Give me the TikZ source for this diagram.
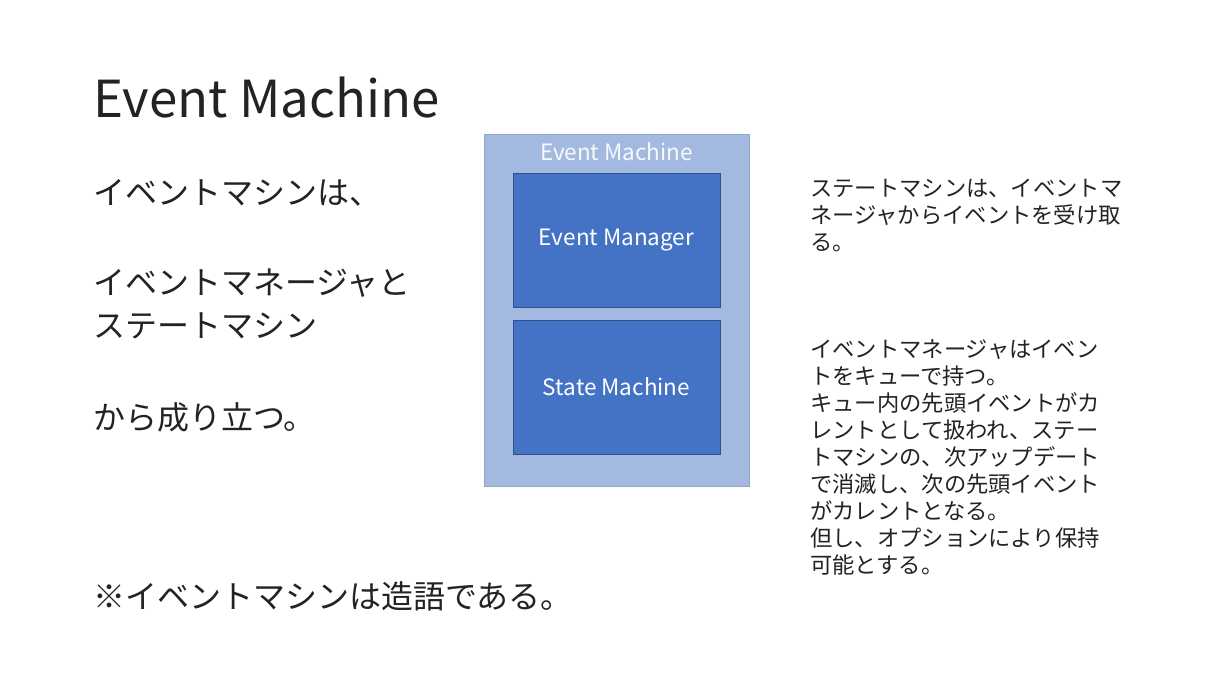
\documentclass[tikz,border=0pt]{standalone}
\usepackage{fontspec}
\setmainfont{Noto Sans CJK JP}
\usepackage{tikz}
\usetikzlibrary{positioning}
\definecolor{shell}{RGB}{163,185,224}
\definecolor{part}{RGB}{68,114,196}
\definecolor{partline}{RGB}{47,82,143}
\definecolor{ink}{RGB}{35,35,35}
\tikzset{
  shellbox/.style={fill=shell, draw=shell!90!black, line width=0.6pt},
  partbox/.style={fill=part, draw=partline, line width=0.8pt,
                  minimum width=207pt, minimum height=134pt, inner sep=0pt,
                  text=white, font=\fontsize{22.5}{26}\selectfont},
  slide/.style={anchor=north west, inner sep=0pt, align=left, text=ink,
                font=\fontsize{32}{43}\selectfont},
  memo/.style={anchor=north west, inner sep=0pt, align=left, text=ink,
               font=\fontsize{22.3}{27}\selectfont}
}

\begin{document}
\begin{tikzpicture}[x=1pt, y=-1pt]
  \useasboundingbox[fill=white] (0,0) rectangle (1206,677);
  % title
  \node[anchor=base west, inner sep=0pt, text=ink,
        font=\fontsize{51}{60}\selectfont] (title) at (93,117) {Event Machine};
  % left side: the sentence
  \node[slide] (intro) at (93,179) {イベントマシンは、};
  \node[slide] (parts) at (93,269) {イベントマネージャと\\ステートマシン};
  \node[slide] (whole) at (93,402) {から成り立つ。};
  \node[slide] (note)  at (93,581) {※イベントマシンは造語である。};

  % the machine and its two parts
  \draw[shellbox] (484,134) rectangle (749,486);
  \node[text=white!92!shell, font=\fontsize{22.5}{26}\selectfont]
    (machine) at (616.5,152) {Event Machine};
  \node[partbox] (manager) at (616.5,240) {Event Manager};
  \node[partbox] (state)   at (616.5,387) {State Machine};

  % right side: remarks
  \node[memo] (recv) at (810,179)
    {ステートマシンは、イベントマ\\ネージャからイベントを受け取\\る。};
  \node[memo] (queue) at (810,339)
    {イベントマネージャはイベン\\トをキューで持つ。\\キュー内の先頭イベントがカ\\レントとして扱われ、ステー\\トマシンの、次アップデート\\で消滅し、次の先頭イベント\\がカレントとなる。\\但し、オプションにより保持\\可能とする。};
\end{tikzpicture}
\end{document}
